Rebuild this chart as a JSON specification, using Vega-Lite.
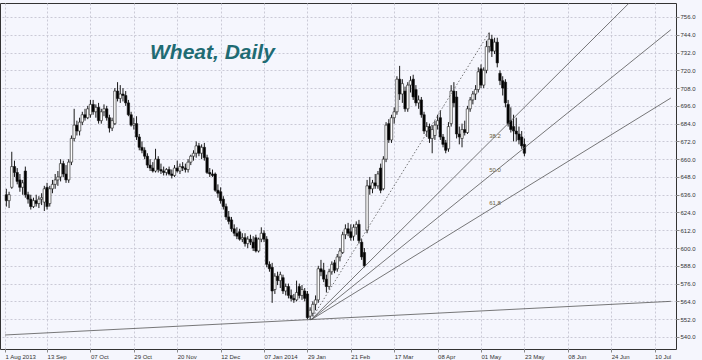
{
"$schema": "https://vega.github.io/schema/vega-lite/v6.json",
"width": 676, "height": 346,
"autosize": {"type": "none"},
"padding": {"left": 0, "top": 3, "right": 26, "bottom": 11},
"background": "#f5f6fd",
"config": {"view": {"stroke": "#333333", "strokeWidth": 1, "fill": "#f5f6fd"},
 "axis": {"grid": true, "gridDash": [2,2], "gridColor": "#cacad6", "gridWidth": 1, "domain": false, "ticks": true, "tickSize": 3, "tickColor": "#888888",
   "labelFont": "Liberation Sans", "labelFontSize": 6, "labelColor": "#333333", "labelOverlap": false, "labelBound": false, "labelFlush": false, "title": null}},
"title": {"text": "Wheat, Daily", "anchor": "start", "frame": "group", "orient": "top", "offset": -77, "dx": 150, "font": "Liberation Sans", "fontSize": 21, "fontStyle": "italic", "fontWeight": "bold", "color": "#1f6b73", "baseline": "alphabetic"},
"datasets": {
"c": [
{"i":1,"o":636,"h":640,"l":628,"c":632},{"i":2,"o":632,"h":638,"l":627,"c":636},{"i":3,"o":641,"h":665,"l":640,"c":655},{"i":4,"o":655,"h":659,"l":648,"c":651},{"i":5,"o":651,"h":654,"l":643,"c":645},{"i":6,"o":646,"h":650,"l":638,"c":641},{"i":7,"o":641,"h":646,"l":636,"c":644},{"i":8,"o":652,"h":655,"l":634,"c":636},{"i":9,"o":636,"h":638,"l":630,"c":633},{"i":10,"o":633,"h":636,"l":626,"c":628},
{"i":11,"o":628,"h":634,"l":627,"c":632},{"i":12,"o":632,"h":636,"l":628,"c":630},{"i":13,"o":630,"h":635,"l":627,"c":633},{"i":14,"o":633,"h":637,"l":629,"c":634},{"i":15,"o":631,"h":642,"l":625,"c":640},{"i":16,"o":641,"h":644,"l":626,"c":628},{"i":17,"o":630,"h":642,"l":628,"c":640},{"i":18,"o":640,"h":646,"l":637,"c":643},{"i":19,"o":643,"h":650,"l":640,"c":646},{"i":20,"o":646,"h":652,"l":642,"c":648},
{"i":21,"o":648,"h":660,"l":645,"c":657},{"i":22,"o":657,"h":659,"l":648,"c":650},{"i":23,"o":650,"h":656,"l":644,"c":646},{"i":24,"o":646,"h":660,"l":644,"c":658},{"i":25,"o":658,"h":676,"l":656,"c":674},{"i":26,"o":674,"h":694,"l":672,"c":683},{"i":27,"o":683,"h":686,"l":676,"c":679},{"i":28,"o":679,"h":688,"l":676,"c":685},{"i":29,"o":685,"h":692,"l":683,"c":690},{"i":30,"o":690,"h":694,"l":686,"c":688},
{"i":31,"o":688,"h":696,"l":687,"c":694},{"i":32,"o":690,"h":700,"l":688,"c":697},{"i":33,"o":697,"h":700,"l":690,"c":692},{"i":34,"o":692,"h":697,"l":688,"c":695},{"i":35,"o":695,"h":698,"l":684,"c":686},{"i":36,"o":686,"h":694,"l":684,"c":692},{"i":37,"o":692,"h":697,"l":689,"c":694},{"i":38,"o":694,"h":696,"l":686,"c":688},{"i":39,"o":688,"h":690,"l":678,"c":681},{"i":40,"o":681,"h":688,"l":679,"c":686},
{"i":41,"o":684,"h":708,"l":683,"c":706},{"i":42,"o":706,"h":712,"l":699,"c":701},{"i":43,"o":701,"h":710,"l":698,"c":704},{"i":44,"o":704,"h":708,"l":699,"c":703},{"i":45,"o":703,"h":706,"l":696,"c":698},{"i":46,"o":698,"h":700,"l":689,"c":690},{"i":47,"o":690,"h":692,"l":682,"c":683},{"i":48,"o":683,"h":688,"l":680,"c":684},{"i":49,"o":684,"h":689,"l":673,"c":675},{"i":50,"o":675,"h":677,"l":666,"c":668},
{"i":51,"o":668,"h":672,"l":664,"c":666},{"i":52,"o":666,"h":668,"l":660,"c":662},{"i":53,"o":662,"h":664,"l":654,"c":656},{"i":54,"o":656,"h":660,"l":652,"c":654},{"i":55,"o":654,"h":658,"l":651,"c":652},{"i":56,"o":652,"h":667,"l":651,"c":660},{"i":57,"o":660,"h":662,"l":651,"c":653},{"i":58,"o":653,"h":657,"l":650,"c":652},{"i":59,"o":652,"h":655,"l":649,"c":651},{"i":60,"o":651,"h":654,"l":649,"c":653},
{"i":61,"o":653,"h":655,"l":649,"c":650},{"i":62,"o":650,"h":653,"l":647,"c":649},{"i":63,"o":649,"h":656,"l":648,"c":654},{"i":64,"o":654,"h":659,"l":651,"c":652},{"i":65,"o":652,"h":657,"l":650,"c":655},{"i":66,"o":655,"h":658,"l":652,"c":654},{"i":67,"o":654,"h":657,"l":651,"c":653},{"i":68,"o":653,"h":660,"l":651,"c":658},{"i":69,"o":658,"h":663,"l":656,"c":662},{"i":70,"o":662,"h":666,"l":659,"c":664},
{"i":71,"o":664,"h":672,"l":661,"c":669},{"i":72,"o":669,"h":671,"l":662,"c":664},{"i":73,"o":664,"h":670,"l":660,"c":668},{"i":74,"o":668,"h":671,"l":659,"c":661},{"i":75,"o":661,"h":663,"l":650,"c":651},{"i":76,"o":651,"h":654,"l":648,"c":650},{"i":77,"o":650,"h":653,"l":648,"c":649},{"i":78,"o":650,"h":651,"l":638,"c":639},{"i":79,"o":639,"h":643,"l":634,"c":637},{"i":80,"o":638,"h":641,"l":630,"c":632},
{"i":81,"o":633,"h":635,"l":626,"c":628},{"i":82,"o":628,"h":630,"l":619,"c":621},{"i":83,"o":621,"h":625,"l":616,"c":618},{"i":84,"o":619,"h":621,"l":611,"c":613},{"i":85,"o":613,"h":616,"l":608,"c":610},{"i":86,"o":610,"h":614,"l":606,"c":608},{"i":87,"o":611,"h":613,"l":605,"c":606},{"i":88,"o":606,"h":610,"l":604,"c":607},{"i":89,"o":607,"h":610,"l":601,"c":603},{"i":90,"o":603,"h":608,"l":600,"c":606},
{"i":91,"o":606,"h":609,"l":602,"c":604},{"i":92,"o":604,"h":608,"l":598,"c":600},{"i":93,"o":607,"h":609,"l":597,"c":598},{"i":94,"o":598,"h":607,"l":597,"c":606},{"i":95,"o":606,"h":614,"l":604,"c":610},{"i":96,"o":610,"h":612,"l":604,"c":606},{"i":97,"o":606,"h":608,"l":587,"c":589},{"i":98,"o":589,"h":591,"l":584,"c":586},{"i":99,"o":587,"h":590,"l":563,"c":571},{"i":100,"o":572,"h":583,"l":569,"c":581},
{"i":101,"o":581,"h":584,"l":575,"c":578},{"i":102,"o":578,"h":584,"l":573,"c":582},{"i":103,"o":580,"h":582,"l":569,"c":571},{"i":104,"o":571,"h":576,"l":568,"c":574},{"i":105,"o":574,"h":576,"l":566,"c":568},{"i":106,"o":568,"h":572,"l":564,"c":566},{"i":107,"o":566,"h":569,"l":563,"c":565},{"i":108,"o":565,"h":578,"l":564,"c":570},{"i":109,"o":574,"h":576,"l":566,"c":568},{"i":110,"o":568,"h":575,"l":565,"c":572},
{"i":111,"o":571,"h":573,"l":564,"c":566},{"i":112,"o":569,"h":571,"l":552,"c":553},{"i":113,"o":554,"h":560,"l":551.5,"c":558},{"i":114,"o":556,"h":564,"l":554,"c":562},{"i":115,"o":562,"h":568,"l":558,"c":565},{"i":116,"o":565,"h":588,"l":563,"c":586},{"i":117,"o":586,"h":592,"l":581,"c":584},{"i":118,"o":585,"h":590,"l":577,"c":579},{"i":119,"o":579,"h":582,"l":570,"c":574},{"i":120,"o":574,"h":586,"l":572,"c":584},
{"i":121,"o":584,"h":591,"l":582,"c":589},{"i":122,"o":590,"h":592,"l":583,"c":585},{"i":123,"o":586,"h":596,"l":584,"c":594},{"i":124,"o":594,"h":600,"l":591,"c":598},{"i":125,"o":597,"h":611,"l":596,"c":609},{"i":126,"o":609,"h":616,"l":606,"c":613},{"i":127,"o":613,"h":617,"l":608,"c":610},{"i":128,"o":611,"h":616,"l":605,"c":607},{"i":129,"o":608,"h":616,"l":605,"c":614},{"i":130,"o":614,"h":618,"l":609,"c":616},
{"i":131,"o":616,"h":619,"l":603,"c":605},{"i":132,"o":604,"h":606,"l":592,"c":594},{"i":133,"o":597,"h":600,"l":587,"c":588},{"i":134,"o":612,"h":646,"l":610,"c":642},{"i":135,"o":642,"h":648,"l":636,"c":640},{"i":136,"o":640,"h":646,"l":637,"c":644},{"i":137,"o":644,"h":650,"l":640,"c":642},{"i":138,"o":642,"h":652,"l":640,"c":650},{"i":139,"o":654,"h":657,"l":637,"c":639},{"i":140,"o":640,"h":662,"l":639,"c":660},
{"i":141,"o":660,"h":685,"l":658,"c":683},{"i":142,"o":684,"h":687,"l":671,"c":673},{"i":143,"o":673,"h":690,"l":671,"c":688},{"i":144,"o":688,"h":695,"l":684,"c":692},{"i":145,"o":692,"h":716,"l":690,"c":714},{"i":146,"o":714,"h":723,"l":700,"c":704},{"i":147,"o":704,"h":714,"l":698,"c":711},{"i":148,"o":706,"h":709,"l":692,"c":694},{"i":149,"o":694,"h":712,"l":692,"c":710},{"i":150,"o":710,"h":716,"l":705,"c":713},
{"i":151,"o":714,"h":717,"l":700,"c":702},{"i":152,"o":707,"h":710,"l":696,"c":698},{"i":153,"o":698,"h":703,"l":694,"c":700},{"i":154,"o":700,"h":702,"l":688,"c":690},{"i":155,"o":690,"h":692,"l":677,"c":679},{"i":156,"o":679,"h":685,"l":675,"c":682},{"i":157,"o":682,"h":684,"l":671,"c":674},{"i":158,"o":674,"h":683,"l":664,"c":680},{"i":159,"o":676,"h":686,"l":673,"c":683},{"i":160,"o":683,"h":690,"l":680,"c":686},
{"i":161,"o":688,"h":693,"l":673,"c":675},{"i":162,"o":675,"h":677,"l":668,"c":670},{"i":163,"o":671,"h":673,"l":664,"c":666},{"i":164,"o":667,"h":685,"l":665,"c":682},{"i":165,"o":684,"h":710,"l":682,"c":706},{"i":166,"o":706,"h":712,"l":695,"c":698},{"i":167,"o":702,"h":706,"l":674,"c":677},{"i":168,"o":677,"h":682,"l":670,"c":675},{"i":169,"o":674,"h":684,"l":668,"c":680},{"i":170,"o":680,"h":686,"l":676,"c":678},
{"i":171,"o":678,"h":696,"l":677,"c":694},{"i":172,"o":694,"h":702,"l":692,"c":700},{"i":173,"o":700,"h":706,"l":697,"c":704},{"i":174,"o":704,"h":710,"l":700,"c":707},{"i":175,"o":707,"h":722,"l":705,"c":719},{"i":176,"o":721,"h":724,"l":708,"c":710},{"i":177,"o":710,"h":722,"l":708,"c":720},{"i":178,"o":720,"h":740,"l":718,"c":736},{"i":179,"o":736,"h":745.5,"l":732,"c":741},{"i":180,"o":741,"h":744,"l":729,"c":733},
{"i":181,"o":733,"h":742,"l":731,"c":739},{"i":182,"o":739,"h":742,"l":722,"c":725},{"i":183,"o":718,"h":720,"l":710,"c":713},{"i":184,"o":713,"h":716,"l":703,"c":708},{"i":185,"o":712,"h":714,"l":695,"c":698},{"i":186,"o":697,"h":700,"l":682,"c":684},{"i":187,"o":686,"h":695,"l":678,"c":680},{"i":188,"o":682,"h":690,"l":672,"c":679},{"i":189,"o":679,"h":688,"l":672,"c":677},{"i":190,"o":677,"h":682,"l":670,"c":673},
{"i":191,"o":675,"h":679,"l":667,"c":669},{"i":192,"o":670,"h":674,"l":662,"c":664}
],
"fan": [
{"g":"f382","i":113.3,"p":551.5},{"g":"f382","i":246,"p":793.5},
{"g":"f500","i":113.3,"p":551.5},{"g":"f500","i":246,"p":747.4},
{"g":"f618","i":113.3,"p":551.5},{"g":"f618","i":246,"p":701.3},
{"g":"trend","i":0.5,"p":541.3},{"g":"trend","i":246,"p":564}
],
"dot": [{"i":113.3,"p":551.5},{"i":179,"p":745.5}],
"fib": [{"i":179,"p":675.6,"t":"38.2"},{"i":179,"p":652.7,"t":"50.0"},{"i":179,"p":630.5,"t":"61.8"}]
},
"layer": [
{"data": {"name": "c"},
 "mark": {"type": "rule", "color": "#1a1a1a", "strokeWidth": 1},
 "encoding": {
  "x": {"field": "i", "type": "quantitative", "title": null, "scale": {"domain": [0.5, 246.05], "nice": false, "zero": false},
   "axis": {"orient": "bottom", "tickCount": 100, "values": [0.5,16,32,48,64,80,96,112,128,144,160,176,192,208,224,240],
    "labelExpr": "['1 Aug 2013','13 Sep','07 Oct','29 Oct','20 Nov','12 Dec','07 Jan 2014','29 Jan','21 Feb','17 Mar','08 Apr','01 May','23 May','08 Jun','24 Jun','10 Jul'][round(datum.value/16)]",
    "labelAlign": "left", "labelBaseline": "top", "labelPadding": 1, "labelOverlap": false, "labelBound": false, "labelFlush": false}},
  "y": {"field": "l", "type": "quantitative", "title": null, "scale": {"domain": [531.83, 765.45], "nice": false, "zero": false},
   "axis": {"orient": "right", "tickCount": 100, "values": [540,552,564,576,588,600,612,624,636,648,660,672,684,696,708,720,732,744,756], "format": ".1f",
    "labelAlign": "left", "labelBaseline": "middle", "labelPadding": 1, "labelOverlap": false, "labelBound": false, "labelFlush": false}},
  "y2": {"field": "h"}
 }},
{"data": {"name": "c"},
 "mark": {"type": "bar", "size": 2.4, "stroke": "#1a1a1a", "strokeWidth": 0.6},
 "encoding": {
  "x": {"field": "i", "type": "quantitative", "title": null},
  "y": {"field": "o", "type": "quantitative", "title": null},
  "y2": {"field": "c"},
  "fill": {"condition": {"test": "datum.c >= datum.o", "value": "#ffffff"}, "value": "#000000"}
 }},
{"data": {"name": "fan"},
 "mark": {"type": "line", "color": "#555555", "strokeWidth": 0.8, "clip": true},
 "encoding": {
  "x": {"field": "i", "type": "quantitative", "title": null},
  "y": {"field": "p", "type": "quantitative", "title": null},
  "detail": {"field": "g"}
 }},
{"data": {"name": "dot"},
 "mark": {"type": "line", "color": "#555555", "strokeWidth": 0.8, "strokeDash": [1.5, 2], "clip": true},
 "encoding": {
  "x": {"field": "i", "type": "quantitative", "title": null},
  "y": {"field": "p", "type": "quantitative", "title": null}
 }},
{"data": {"name": "fib"},
 "mark": {"type": "text", "align": "left", "baseline": "middle", "font": "Liberation Sans", "fontSize": 6, "color": "#6e5e40"},
 "encoding": {
  "x": {"field": "i", "type": "quantitative", "title": null},
  "y": {"field": "p", "type": "quantitative", "title": null},
  "text": {"field": "t"}
 }}
]
}
